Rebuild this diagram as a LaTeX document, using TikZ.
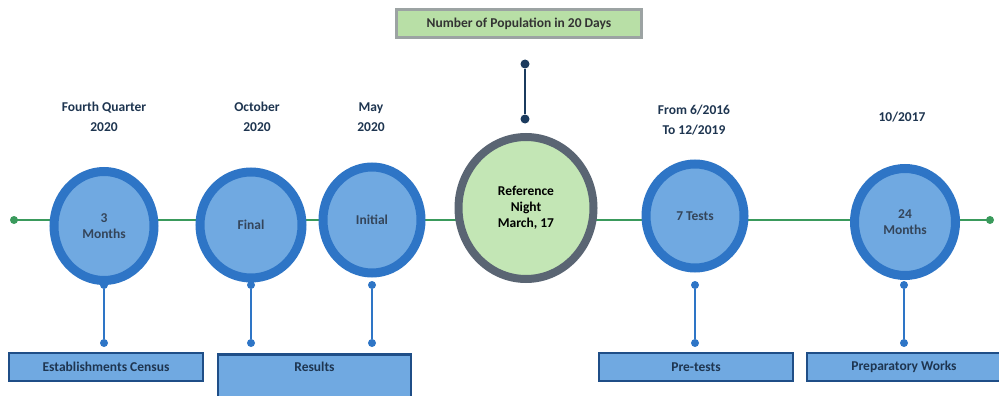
\documentclass[tikz,border=0pt]{standalone}
\usepackage{fontspec}
\setmainfont{Carlito}
\usetikzlibrary{shapes.geometric}
\definecolor{ringblue}{HTML}{2E75C6}
\definecolor{fillblue}{HTML}{70A9E1}
\definecolor{boxedge}{HTML}{1F4E87}
\definecolor{navy}{HTML}{1E3550}
\definecolor{inktext}{HTML}{34455A}
\definecolor{linegreen}{HTML}{3A9A5C}
\definecolor{refgreen}{HTML}{C3E6B5}
\definecolor{refring}{HTML}{5A6573}
\definecolor{topgreen}{HTML}{B8DFA6}
\definecolor{topedge}{HTML}{9CA3A3}
\definecolor{stemnavy}{HTML}{1B3B5E}
\tikzset{
  x=1pt, y=-1pt,
  every node/.style={font=\fontsize{13.5}{16}\selectfont\bfseries, align=center, inner sep=0pt},
  event/.style={ellipse, draw=ringblue, line width=9pt, fill=fillblue, text=inktext},
  refevent/.style={ellipse, draw=refring, line width=8pt, fill=refgreen, text=black},
  datelabel/.style={text=navy, font=\fontsize{13.5}{20}\selectfont\bfseries},
  phasebox/.style={rectangle, draw=boxedge, line width=2.5pt, fill=fillblue, text=navy},
  topbox/.style={rectangle, draw=topedge, line width=3pt, fill=topgreen, text=black!80},
  timeline/.style={draw=linegreen, line width=1.8pt},
  stem/.style={draw=ringblue, line width=2.2pt},
  enddot/.style={circle, fill=linegreen, minimum size=8pt},
  stemdot/.style={circle, fill=ringblue, minimum size=8pt},
  navydot/.style={circle, fill=stemnavy, minimum size=9pt},
}
\begin{document}
\begin{tikzpicture}
\useasboundingbox (0,0) rectangle (999,396);

% main time axis
\coordinate (lend) at (14,220);
\coordinate (rend) at (990,220);
\draw[timeline] (lend) -- (rend);
\node[enddot] (ldot) at (lend) {};
\node[enddot] (rdot) at (rend) {};

% headline box and its marker
\node[topbox, minimum width=245pt, minimum height=28pt] (head) at (519,24) {Number of Population in 20 Days};
\node[navydot] (ptop) at (525,64) {};
\node[navydot] (pbot) at (525,119) {};
\draw[draw=stemnavy, line width=2.5pt] (ptop) -- (pbot);

% milestones
\node[event, minimum width=100pt, minimum height=109pt] (c1) at (104,226) {3\\Months};
\node[event, minimum width=102pt, minimum height=106pt] (c2) at (251,225) {Final};
\node[event, minimum width=98pt, minimum height=106pt] (c3) at (372,220) {Initial};
\node[refevent, minimum width=135pt, minimum height=142pt] (c4) at (526,208) {Reference\\Night\\March, 17};
\node[event, minimum width=98pt, minimum height=104pt] (c5) at (695,216) {7 Tests};
\node[event, minimum width=101pt, minimum height=107pt] (c6) at (905,222) {24\\Months};

% dates above the milestones
\node[datelabel] (t1) at (104,117) {Fourth Quarter\\2020};
\node[datelabel] (t2) at (257,117) {October\\2020};
\node[datelabel] (t3) at (371,117) {May\\2020};
\node[datelabel] (t5) at (694,120) {From 6/2016\\To 12/2019};
\node[datelabel] (t6) at (902,117) {10/2017};

% phase boxes
\node[phasebox, minimum width=194pt, minimum height=28pt] (b1) at (106,367) {Establishments Census};
\node[phasebox, minimum width=193pt, minimum height=44pt, anchor=north] (b2) at (314.5,353) {};
\node[text=navy] (b2t) at (314.5,367) {Results};
\node[phasebox, minimum width=194pt, minimum height=28pt] (b5) at (696,367) {Pre-tests};
\node[phasebox, minimum width=194pt, minimum height=28pt] (b6) at (904,367) {Preparatory Works};

% stems from milestones down to the phase boxes
\foreach \c/\x in {c1/104, c2/251, c3/372, c5/695, c6/904} {
  \node[stemdot] (\c top) at (\x,285) {};
  \node[stemdot] (\c bot) at (\x,343) {};
  \draw[stem] (\c top) -- (\c bot);
}
\end{tikzpicture}
\end{document}
